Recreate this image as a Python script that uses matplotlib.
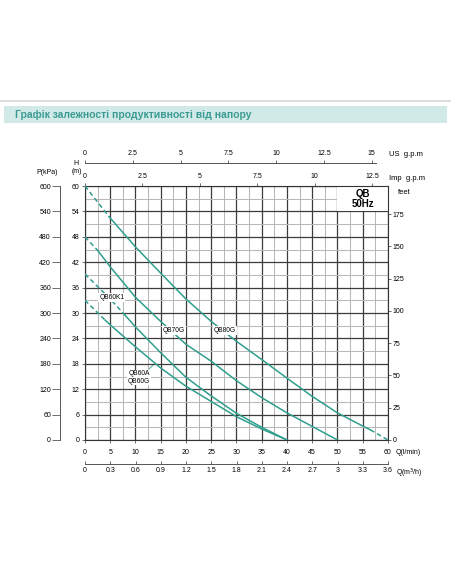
import numpy as np
import matplotlib
matplotlib.use("Agg")
import matplotlib.pyplot as plt
from matplotlib.patches import Rectangle
from matplotlib.lines import Line2D

plt.rcParams['font.family'] = ['Liberation Sans', 'DejaVu Sans']

# ---- data (Q in l/min, H in m) ----
q_80g = [0, 4.8, 10, 15, 20, 25, 30, 35, 40, 45, 50, 55, 56.5, 60]
h_80g = [60, 52.7, 45.6, 39.4, 33.3, 28.0, 23.3, 19.0, 14.6, 10.3, 6.4, 3.3, 2.4, 0]
q_70g = [0, 2.5, 5, 10, 15, 20, 25, 30, 35, 40, 45, 50]
h_70g = [48, 44.8, 40.9, 33.7, 28.0, 22.6, 18.6, 14.0, 10.0, 6.4, 3.2, 0]
q_60k1 = [0, 5, 8, 10, 15, 20, 25, 30, 35, 40]
h_60k1 = [39.2, 33.3, 29.4, 26.7, 20.6, 14.8, 10.4, 6.3, 3.0, 0]
q_60ag = [0, 4, 5, 10, 15, 20, 25, 30, 35, 40]
h_60ag = [33.0, 28.3, 27.2, 22.0, 17.0, 12.7, 9.1, 5.5, 2.6, 0]

# first / last index of the solid part of each curve
solid_80g = (1, 12)
solid_70g = (1, 11)
solid_60k1 = (2, 9)
solid_60ag = (1, 9)

q_ticks = list(range(0, 61, 5))
h_ticks = list(range(0, 61, 6))
p_ticks = list(range(0, 601, 60))
ft_ticks = list(range(0, 176, 25))
imp_ticks = [0, 2.5, 5, 7.5, 10, 12.5]
imp_labels = ["0", "2.5", "5", "7.5", "10", "12.5"]
us_ticks = [0, 2.5, 5, 7.5, 10, 12.5, 15]
us_labels = ["0", "2.5", "5", "7.5", "10", "12.5", "15"]
m3h_ticks = [0, 0.3, 0.6, 0.9, 1.2, 1.5, 1.8, 2.1, 2.4, 2.7, 3.0, 3.3, 3.6]
m3h_labels = ["0", "0.3", "0.6", "0.9", "1.2", "1.5", "1.8", "2.1", "2.4", "2.7", "3", "3.3", "3.6"]

W, H = 452, 584
TEAL = '#2f9e8c'


def main():
	fig = plt.figure(figsize=(W / 100, H / 100), dpi=100)
	fig.patch.set_facecolor('white')

	def ftext(x, y, s, **kw):
		fig.text(x / W, 1 - y / H, s, **kw)

	# header
	fig.add_artist(Line2D([0, 1], [1 - 101 / H] * 2, color='#d6d6d6', lw=1.2))
	fig.add_artist(Rectangle((4 / W, 1 - 123 / H), 443 / W, 17 / H,
		transform=fig.transFigure, color='#d2eae7', lw=0))
	ftext(15, 114.5, "Графік залежності продуктивності від напору", color='#3b9b94',
		fontsize=7.5, fontweight='bold', va='center', ha='left')

	left, right, top, bottom = 85, 388, 186, 440
	ax = fig.add_axes([left / W, 1 - bottom / H, (right - left) / W, (bottom - top) / H])
	ax.set_xlim(0, 60)
	ax.set_ylim(0, 60)

	ax.set_xticks(q_ticks)
	ax.set_xticks(np.arange(0, 61, 2.5), minor=True)
	ax.set_yticks(h_ticks)
	ax.set_yticks(np.arange(0, 61, 3), minor=True)
	ax.grid(which='major', color='#3c3c3c', lw=0.9)
	ax.grid(which='minor', color='#b8b8b8', lw=0.75)
	ax.tick_params(which='minor', length=0)
	ax.tick_params(axis='both', which='major', labelsize=5, length=2.5, width=0.6, color='#555')
	ax.tick_params(axis='x', pad=4)
	ax.tick_params(axis='y', pad=1.5)
	for s in ax.spines.values():
		s.set_linewidth(0.8)
		s.set_color('#333')

	# white QB box
	ax.add_patch(Rectangle((50, 54), 10, 6, facecolor='white', edgecolor='none', zorder=2.2))
	ftext(363, 194, "QB", fontsize=7, fontweight='bold', ha='center', va='center')
	ftext(363, 204, "50Hz", fontsize=7, fontweight='bold', ha='center', va='center')

	# curves
	for q, h, (a, b) in [(q_80g, h_80g, solid_80g), (q_70g, h_70g, solid_70g),
			(q_60k1, h_60k1, solid_60k1), (q_60ag, h_60ag, solid_60ag)]:
		ax.plot(q[a:b + 1], h[a:b + 1], color=TEAL, lw=1.1, zorder=3)
		ax.plot(q[:a + 1], h[:a + 1], color=TEAL, lw=1.1, ls=(0, (3, 2)), zorder=3)
		ax.plot(q[b:], h[b:], color=TEAL, lw=1.1, ls=(0, (3, 2)), zorder=3)

	bb = dict(facecolor='white', edgecolor='none', pad=0.6)
	ax.text(5.3, 33.6, "QB60K1", fontsize=4.8, ha='center', va='center', bbox=bb, zorder=4)
	ax.text(17.6, 25.8, "QB70G", fontsize=4.8, ha='center', va='center', bbox=bb, zorder=4)
	ax.text(27.7, 25.8, "QB80G", fontsize=4.8, ha='center', va='center', bbox=bb, zorder=4)
	ax.text(10.7, 15.6, "QB60A", fontsize=4.8, ha='center', va='center', bbox=bb, zorder=4)
	ax.text(10.7, 13.9, "QB60G", fontsize=4.8, ha='center', va='center', bbox=bb, zorder=4)
	ax.annotate("", xy=(13.9, 18.1), xytext=(12.3, 16.4),
		arrowprops=dict(arrowstyle='-', color=TEAL, lw=0.6))

	# pressure axis (left, offset)
	ax_p = ax.secondary_yaxis(-25 / 303, functions=(lambda h: h * 10, lambda p: p / 10))
	ax_p.set_yticks(p_ticks)
	ax_p.tick_params(labelsize=5, length=5.5, width=0.6, pad=1, color='#555')
	ax_p.spines['left'].set_linewidth(0.7)
	ax_p.spines['left'].set_color('#555')

	# feet axis (right)
	ax_ft = ax.secondary_yaxis('right', functions=(lambda m: m / 0.3048, lambda f: f * 0.3048))
	ax_ft.set_yticks(ft_ticks)
	ax_ft.tick_params(labelsize=5, length=2.5, width=0.6, pad=1, color='#555')
	ax_ft.spines['right'].set_visible(False)

	# Imp gpm (top)
	ax_imp = ax.secondary_xaxis('top', functions=(lambda x: x / 4.546, lambda g: g * 4.546))
	ax_imp.set_xticks(imp_ticks)
	ax_imp.set_xticklabels(imp_labels)
	ax_imp.tick_params(labelsize=5, length=2.5, width=0.6, pad=1.5, color='#555')
	ax_imp.spines['top'].set_visible(False)

	# US gpm (top, offset)
	ax_us = ax.secondary_xaxis(1 + 23 / 254, functions=(lambda x: x / 3.785, lambda g: g * 3.785))
	ax_us.set_xticks(us_ticks)
	ax_us.set_xticklabels(us_labels)
	ax_us.tick_params(labelsize=5, length=2.5, width=0.6, pad=1.5, color='#555')
	ax_us.spines['top'].set_bounds(0, 15.2)
	ax_us.spines['top'].set_linewidth(0.7)
	ax_us.spines['top'].set_color('#555')

	# m3/h (bottom, offset)
	ax_m3 = ax.secondary_xaxis(-24 / 254, functions=(lambda x: x * 0.06, lambda m: m / 0.06))
	ax_m3.set_xticks(m3h_ticks)
	ax_m3.set_xticklabels(m3h_labels)
	ax_m3.tick_params(labelsize=5, length=2.5, width=0.6, pad=2.5, direction='in', color='#555')
	ax_m3.spines['bottom'].set_linewidth(0.7)
	ax_m3.spines['bottom'].set_color('#555')

	# axis names
	ftext(47, 172, "P(kPa)", fontsize=5, ha='center', va='center')
	ftext(76, 163, "H", fontsize=5, ha='center', va='center')
	ftext(77, 171.5, "(m)", fontsize=5, ha='center', va='center')
	ftext(389, 155, "US  g.p.m", fontsize=5.5, ha='left', va='center')
	ftext(389, 178, "Imp  g.p.m", fontsize=5.5, ha='left', va='center')
	ftext(398, 193, "feet", fontsize=5.5, ha='left', va='center')
	ftext(396, 453, "Q(l/min)", fontsize=5, ha='left', va='center')
	ftext(396, 473, "Q(m$^3$/h)", fontsize=5, ha='left', va='center')

	fig.savefig("out.png", dpi=100)


if __name__ == "__main__":
	main()
